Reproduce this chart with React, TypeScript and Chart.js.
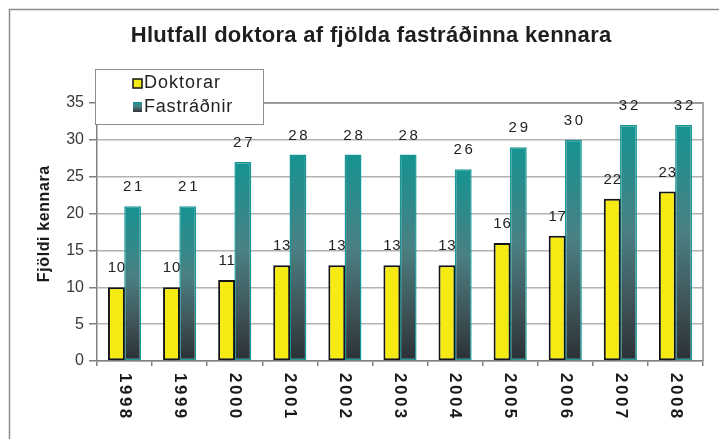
import React, { useEffect, useRef } from 'react';
import { Chart, registerables } from 'chart.js';

Chart.register(...registerables);

const years = ['1998', '1999', '2000', '2001', '2002', '2003', '2004', '2005', '2006', '2007', '2008'];
const doktorar = [10, 10, 11, 13, 13, 13, 13, 16, 17, 22, 23];
const fastradnir = [21, 21, 27, 28, 28, 28, 26, 29, 30, 32, 32];
const seriesNames = ['Doktorar', 'Fastráðnir'];
const titleText = 'Hlutfall doktora af fjölda fastráðinna kennara';
const yTitleText = 'Fjöldi kennara';
const yMin = 0;
const yMax = 35;
const yStep = 5;

const FONT = '"Liberation Sans", Arial, sans-serif';
const labelSpacing = [0.8, 2.8];

function tealGradient(ctx: CanvasRenderingContext2D, top: number, bottom: number) {
  const g = ctx.createLinearGradient(0, top, 0, bottom);
  g.addColorStop(0, '#159391');
  g.addColorStop(0.45, '#4a8083');
  g.addColorStop(0.75, '#3f5559');
  g.addColorStop(1, '#2a3035');
  return g;
}

function spacedText(ctx: CanvasRenderingContext2D, text: string, x: number, y: number, spacing: number, align: 'left' | 'center') {
  (ctx as any).letterSpacing = spacing + 'px';
  ctx.textAlign = align;
  const dx = align === 'center' ? spacing / 2 : 0;
  ctx.fillText(text, x + dx, y);
  (ctx as any).letterSpacing = '0px';
}

const decor = {
  id: 'decor',
  beforeDraw(chart: any) {
    const ctx = chart.ctx;
    ctx.save();
    ctx.fillStyle = '#ffffff';
    ctx.fillRect(0, 0, chart.width, chart.height);
    ctx.restore();
  },
  afterDatasetsDraw(chart: any) {
    const ctx: CanvasRenderingContext2D = chart.ctx;
    const area = chart.chartArea;
    ctx.save();
    ctx.strokeStyle = '#8c8c8c';
    ctx.lineWidth = 1.5;
    ctx.beginPath();
    ctx.moveTo(area.left, area.top);
    ctx.lineTo(area.right, area.top);
    ctx.lineTo(area.right, area.bottom);
    ctx.stroke();
    ctx.fillStyle = '#222222';
    ctx.font = '15px ' + FONT;
    ctx.textBaseline = 'middle';
    chart.data.datasets.forEach((ds: any, i: number) => {
      const meta = chart.getDatasetMeta(i);
      meta.data.forEach((el: any, j: number) => {
        spacedText(ctx, String(ds.data[j]), el.x, el.y - 19, labelSpacing[i], 'center');
      });
    });
    ctx.restore();
  },
  afterDraw(chart: any) {
    const ctx: CanvasRenderingContext2D = chart.ctx;
    const area = chart.chartArea;
    const xs = chart.scales.x;
    ctx.save();
    ctx.strokeStyle = '#8c8c8c';
    ctx.lineWidth = 1.5;
    ctx.beginPath();
    ctx.moveTo(9.5, chart.height);
    ctx.lineTo(9.5, 9.5);
    ctx.lineTo(chart.width, 9.5);
    ctx.stroke();

    ctx.fillStyle = '#1e1e1e';
    ctx.font = 'bold 22px ' + FONT;
    ctx.textBaseline = 'middle';
    spacedText(ctx, titleText, 371, 36, 0.3, 'center');

    ctx.save();
    ctx.translate(45, 224);
    ctx.rotate(-Math.PI / 2);
    ctx.font = 'bold 16px ' + FONT;
    ctx.fillStyle = '#1a1a1a';
    ctx.textBaseline = 'middle';
    spacedText(ctx, yTitleText, 0, 0, 0.6, 'center');
    ctx.restore();

    ctx.font = 'bold 17px ' + FONT;
    ctx.fillStyle = '#1a1a1a';
    years.forEach((lab, i) => {
      const x = xs.getPixelForValue(i);
      ctx.save();
      ctx.translate(x, area.bottom + 12);
      ctx.rotate(Math.PI / 2);
      ctx.textBaseline = 'middle';
      spacedText(ctx, lab, 0, 0, 2.5, 'left');
      ctx.restore();
    });

    const lx = 95, ly = 69, lw = 168, lh = 55;
    ctx.fillStyle = '#ffffff';
    ctx.fillRect(lx, ly, lw, lh);
    ctx.strokeStyle = '#8c8c8c';
    ctx.lineWidth = 1;
    ctx.strokeRect(lx + 0.5, ly + 0.5, lw, lh);
    ctx.fillStyle = '#f5eb12';
    ctx.fillRect(133, 79, 9, 9);
    ctx.strokeStyle = '#111111';
    ctx.lineWidth = 1.5;
    ctx.strokeRect(133, 79, 9, 9);
    ctx.fillStyle = tealGradient(ctx, 102, 112);
    ctx.fillRect(133, 102, 9, 10);
    ctx.fillStyle = '#222222';
    ctx.font = '18px ' + FONT;
    ctx.textBaseline = 'middle';
    spacedText(ctx, seriesNames[0], 144, 83, 1.0, 'left');
    spacedText(ctx, seriesNames[1], 144, 107, 0.8, 'left');
    ctx.restore();
  },
};

export default function App() {
  const ref = useRef<HTMLCanvasElement | null>(null);
  useEffect(() => {
    if (!ref.current) return;
    const chart = new Chart(ref.current, {
      type: 'bar',
      data: {
        labels: years,
        datasets: [
          {
            label: seriesNames[0],
            data: doktorar,
            backgroundColor: '#f5eb12',
            borderColor: '#141414',
            borderWidth: 2,
            borderSkipped: false,
          },
          {
            label: seriesNames[1],
            data: fastradnir,
            backgroundColor: (c: any) => {
              const chart = c.chart;
              const ys = chart.scales && chart.scales.y;
              if (c.type !== 'data' || !ys) return '#1a9090';
              const top = ys.getPixelForValue(c.raw);
              const bottom = ys.getPixelForValue(0);
              if (!isFinite(top) || !isFinite(bottom) || top === bottom) return '#1a9090';
              return tealGradient(chart.ctx, top, bottom);
            },
            borderColor: '#1a9898',
            borderWidth: 1.5,
            borderSkipped: false,
          },
        ],
      },
      options: {
        responsive: false,
        animation: false,
        devicePixelRatio: 1,
        layout: { padding: { left: 0, top: 103, right: 16, bottom: 0 } },
        plugins: {
          legend: { display: false },
          title: { display: false },
          tooltip: { enabled: false },
        },
        datasets: {
          bar: { categoryPercentage: 0.59, barPercentage: 1.04 },
        },
        scales: {
          x: {
            afterFit: (s: any) => { s.height = 78; },
            ticks: { display: false },
            grid: {
              display: true,
              drawOnChartArea: false,
              drawTicks: true,
              tickLength: 5,
              offset: true,
              color: '#808080',
              lineWidth: 1.5,
            },
            border: { display: true, color: '#808080', width: 1.5 },
          },
          y: {
            min: yMin,
            max: yMax,
            afterFit: (s: any) => { s.width = 97; },
            ticks: {
              stepSize: yStep,
              padding: 5,
              color: '#3a3a3a',
              font: { family: FONT, size: 16 },
            },
            grid: {
              color: '#b2b2b2',
              lineWidth: 1.5,
              tickLength: 8,
              tickColor: '#808080',
              drawTicks: true,
            },
            border: { display: true, color: '#808080', width: 1.5 },
          },
        },
      },
      plugins: [decor],
    } as any);
    return () => chart.destroy();
  }, []);
  return (
    <div style={{ position: 'absolute', left: 0, top: 0, width: 719, height: 439, background: '#fff' }}>
      <canvas ref={ref} width={719} height={439} style={{ width: 719, height: 439, display: 'block' }} />
    </div>
  );
}
